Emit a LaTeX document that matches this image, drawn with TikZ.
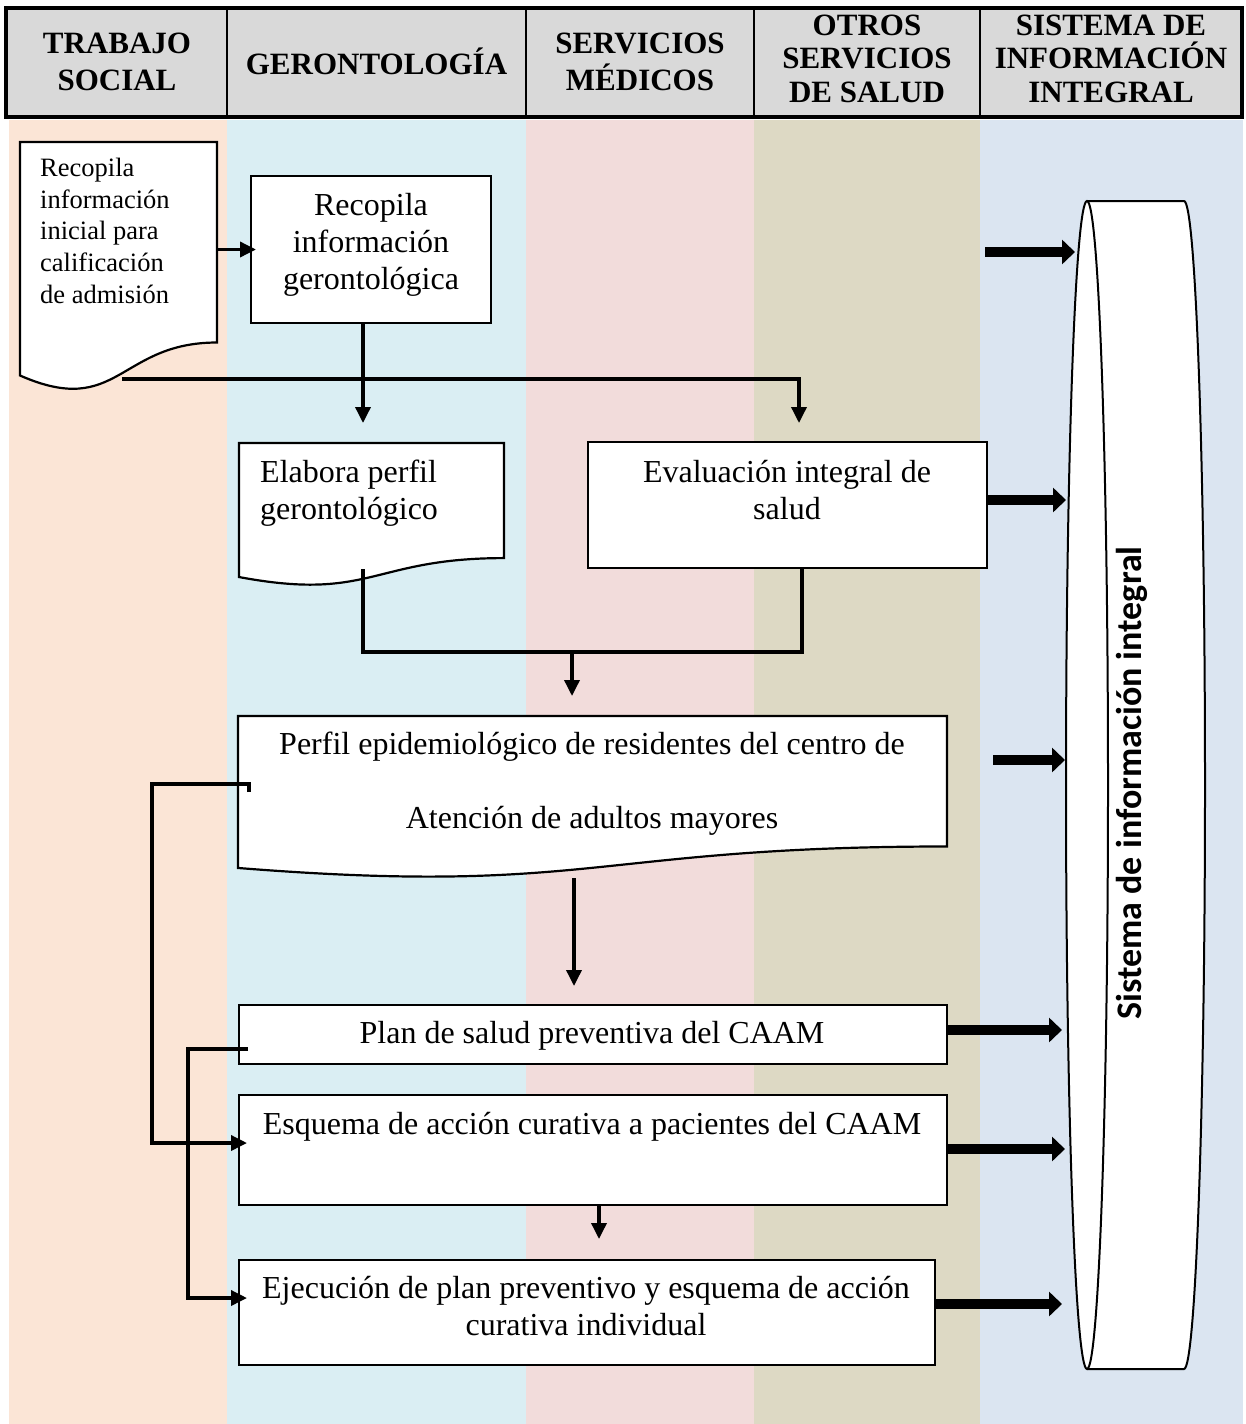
\documentclass[tikz,border=0pt]{standalone}
\usepackage{fontspec}
\setmainfont{Liberation Serif}
\newfontfamily\calibri{Carlito}
\usetikzlibrary{arrows.meta,calc}

\definecolor{hdrgray}{HTML}{D9D9D9}
\definecolor{lanepeach}{HTML}{FBE5D6}
\definecolor{laneblue}{HTML}{DAEEF3}
\definecolor{lanepink}{HTML}{F2DCDB}
\definecolor{lanetan}{HTML}{DDD9C4}
\definecolor{lanesys}{HTML}{DBE5F1}

% document shape: x0, x1, top, h
\newcommand{\docshape}[4]{%
  \draw[outline] (#1,#3) -- (#2,#3) -- (#2,{#3+0.802*#4})
    .. controls ({(#1+#2)/2},{#3+0.802*#4}) and ({(#1+#2)/2},{#3+1.107*#4}) ..
    (#1,{#3+0.934*#4}) -- cycle;}

\begin{document}
\begin{tikzpicture}[x=1pt,y=-1pt,
  outline/.style={draw=black, line width=2.2pt, fill=white, line join=miter},
  zone/.style={rectangle, draw=none, inner sep=0pt, outer sep=0pt},
  procbox/.style={rectangle, draw=black, line width=2.2pt, fill=white, inner sep=0pt, outer sep=0pt},
  hdrcell/.style={rectangle, draw=black, line width=1.5pt, fill=hdrgray, inner sep=0pt, outer sep=0pt},
  body/.style={inner sep=0pt, font=\fontsize{32}{37}\selectfont, align=center},
  hdrtext/.style={inner sep=0pt, font=\fontsize{31}{37}\selectfont\bfseries, align=center},
  hdrtextiii/.style={inner sep=0pt, font=\fontsize{31}{33.5}\selectfont\bfseries, align=center},
  conn/.style={line width=3.5pt, -{Triangle[length=16pt,width=15pt]}},
  plainline/.style={line width=3.5pt},
  fat/.style={line width=10pt, -{Triangle[length=13pt,width=24pt]}},
]
\useasboundingbox (0,0) rectangle (1246,1424);

% ---------- lanes ----------
\fill[lanepeach] (9,120) rectangle (227,1424);
\fill[laneblue]  (227,120) rectangle (526,1424);
\fill[lanepink]  (526,120) rectangle (754,1424);
\fill[lanetan]   (754,120) rectangle (980,1424);
\fill[lanesys]   (980,120) rectangle (1243,1424);

% ---------- header ----------
\node[hdrcell, minimum width=221, minimum height=109] (h1) at (116.5,62.5) {};
\node[hdrcell, minimum width=299, minimum height=109] (h2) at (376.5,62.5) {};
\node[hdrcell, minimum width=228, minimum height=109] (h3) at (640,62.5) {};
\node[hdrcell, minimum width=226, minimum height=109] (h4) at (867,62.5) {};
\node[hdrcell, minimum width=262, minimum height=109] (h5) at (1111,62.5) {};
\draw[line width=3.5pt] (6,8) rectangle (1242,117);

\node[hdrtext, anchor=north] (ht1) at (117,32.5) {TRABAJO\\SOCIAL};
\node[hdrtext, anchor=base] (ht2) at (376.5,74) {GERONTOLOGÍA};
\node[hdrtext, anchor=north] (ht3) at (640,32.5) {SERVICIOS\\MÉDICOS};
\node[hdrtextiii, anchor=north] (ht4) at (867,14.5) {OTROS\\SERVICIOS\\DE SALUD};
\node[hdrtextiii, anchor=north] (ht5) at (1111,14.5) {SISTEMA DE\\INFORMACIÓN\\INTEGRAL};

% ---------- storage cylinder ----------
\fill[white] (1087,201) -- (1184,201)
  .. controls (1195.6,201) and (1205,462.5) .. (1205,785)
  .. controls (1205,1107.5) and (1195.6,1369) .. (1184,1369)
  -- (1087,1369)
  .. controls (1075.4,1369) and (1066,1107.5) .. (1066,785)
  .. controls (1066,462.5) and (1075.4,201) .. (1087,201) -- cycle;
\draw[line width=2pt] (1087,785) ellipse [x radius=21, y radius=584];
\draw[line width=2pt] (1087,201) -- (1184,201)
  .. controls (1195.6,201) and (1205,462.5) .. (1205,785)
  .. controls (1205,1107.5) and (1195.6,1369) .. (1184,1369) -- (1087,1369);
\node[zone, minimum width=139, minimum height=1168] (sis) at (1135.5,785) {};
\node[inner sep=0pt, rotate=90, font=\calibri\bfseries\fontsize{36}{40}\selectfont] (sistxt) at (1132,783) {Sistema de información integral};

% ---------- shapes ----------
\docshape{20}{217}{142}{250}
\node[zone, minimum width=197, minimum height=200] (d1) at (118.5,242) {};
\node[procbox, minimum width=240, minimum height=147] (b2) at (371,249.5) {};
\docshape{239}{504}{443}{143.5}
\node[zone, minimum width=265, minimum height=115] (d3) at (371.5,500.5) {};
\node[procbox, minimum width=399, minimum height=126] (b4) at (787.5,505) {};
\docshape{238}{947}{716}{162.7}
\node[zone, minimum width=709, minimum height=130] (d5) at (592.5,781) {};
\node[procbox, minimum width=708, minimum height=59] (b6) at (593,1034.5) {};
\node[procbox, minimum width=708, minimum height=110] (b7) at (593,1150) {};
\node[procbox, minimum width=696, minimum height=105] (b8) at (587,1312.5) {};

% ---------- texts ----------
\node[inner sep=0pt, anchor=north west, align=left, font=\fontsize{26.5}{31.8}\selectfont] (d1t) at (40,157.7)
  {Recopila\\información\\inicial para\\calificación\\de admisión};
\node[body, anchor=north] (b2t) at (371,193) {Recopila\\información\\gerontológica};
\node[body, anchor=north west, align=left] (d3t) at (260,460) {Elabora perfil\\gerontológico};
\node[body, anchor=north] (b4t) at (787,460) {Evaluación integral de\\salud};
\node[body, anchor=north, font=\fontsize{32}{74}\selectfont] (d5t) at (592,732)
  {Perfil epidemiológico de residentes del centro de\\Atención de adultos mayores};
\node[body, anchor=north] (b6t) at (592,1021) {Plan de salud preventiva del CAAM};
\node[body, anchor=north] (b7t) at (592,1112) {Esquema de acción curativa a pacientes del CAAM};
\node[body, anchor=north] (b8t) at (586,1276) {Ejecución de plan preventivo y esquema de acción\\curativa individual};

% ---------- connectors ----------
\coordinate (t1) at (363,423);
\coordinate (t2) at (799,423);
\coordinate (d1b) at (122,379);
\draw[conn] (d1.east |- b2.west) -- ([xshift=5pt]b2.west);
\draw[conn] (b2.south -| t1) -- (t1);
\draw[conn] (d1b) -- (d1b -| t2) -- (t2);

\coordinate (d3b) at (363,569);
\coordinate (m1) at (363,652);
\coordinate (m2) at (802,652);
\coordinate (m3) at (572,652);
\coordinate (t3) at (572,696);
\draw[plainline] (d3b) -- (m1) -- (m2) -- (b4.south -| m2);
\draw[conn] (m3) -- (t3);

\coordinate (d5b) at (574,878);
\draw[conn] (d5b) -- ([yshift=19pt]b6.north -| d5b);

\coordinate (f1s) at (249,792);
\coordinate (f1c) at (152,784);
\coordinate (f1e) at (247,1143);
\draw[conn] (f1s) -- (f1s |- f1c) -- (f1c) -- (f1c |- f1e) -- (f1e);

\coordinate (f2s) at (248,1049);
\coordinate (f2c) at (188,1049);
\coordinate (f2e) at (247,1298);
\draw[conn] (f2s) -- (f2c) -- (f2c |- f2e) -- (f2e);

\coordinate (t5) at (599,1239);
\draw[conn] (b7.south -| t5) -- (t5);

% ---------- thick arrows to the information system ----------
\coordinate (a1s) at (985,252);
\coordinate (a1e) at (1075,252);
\coordinate (a2e) at (1066,500);
\coordinate (a3s) at (993,760);
\coordinate (a3e) at (1065,760);
\coordinate (a4e) at (1062,1030);
\coordinate (a5e) at (1065,1149);
\coordinate (a6e) at (1062,1304);
\draw[fat] (a1s) -- (a1e);
\draw[fat] (b4.east |- a2e) -- (a2e);
\draw[fat] (a3s) -- (a3e);
\draw[fat] (b6.east |- a4e) -- (a4e);
\draw[fat] (b7.east |- a5e) -- (a5e);
\draw[fat] (b8.east |- a6e) -- (a6e);
\end{tikzpicture}
\end{document}
